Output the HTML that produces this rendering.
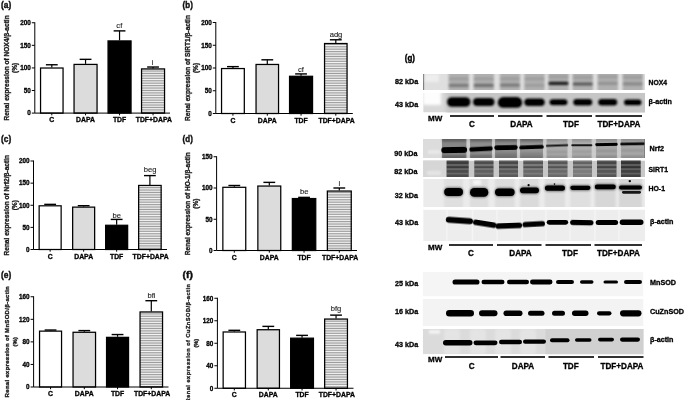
<!DOCTYPE html>
<html><head><meta charset="utf-8"><title>figure</title>
<style>html,body{margin:0;padding:0;background:#fff;}svg{display:block}text{stroke:#000;stroke-width:0.3px;paint-order:stroke fill;}text.ann{stroke-width:0.12px;stroke:#222}</style></head>
<body>
<svg width="685" height="400" viewBox="0 0 685 400">
<defs>
<pattern id="hatch" width="4" height="1.7" patternUnits="userSpaceOnUse"><rect width="4" height="1.7" fill="#f6f6f6"/><rect y="0" width="4" height="0.85" fill="#9a9a9a"/></pattern>
<filter id="b1" filterUnits="userSpaceOnUse" x="380" y="40" width="305" height="360"><feGaussianBlur stdDeviation="0.75"/></filter>
<filter id="b15" filterUnits="userSpaceOnUse" x="380" y="40" width="305" height="360"><feGaussianBlur stdDeviation="1.1"/></filter>
<filter id="b2" filterUnits="userSpaceOnUse" x="380" y="40" width="305" height="360"><feGaussianBlur stdDeviation="1.5"/></filter>
<filter id="b3" filterUnits="userSpaceOnUse" x="380" y="40" width="305" height="360"><feGaussianBlur stdDeviation="2.5"/></filter>
</defs>
<filter id="soft" filterUnits="userSpaceOnUse" x="0" y="0" width="685" height="400"><feGaussianBlur stdDeviation="0.33"/></filter>
<rect width="685" height="400" fill="#fff"/>
<g filter="url(#soft)">

<text x="1.0" y="8.2" font-family="Liberation Sans, sans-serif" font-size="9" font-weight="bold" textLength="10.2" lengthAdjust="spacingAndGlyphs" fill="#111" style="stroke-width:0.4px">(a)</text>
<text transform="translate(8.8,67.925) rotate(-90)" text-anchor="middle" font-family="Liberation Sans, sans-serif" font-size="6.55" font-weight="bold" textLength="105.2" lengthAdjust="spacing" fill="#1a1a1a">Renal expression of NOX4/β-actin</text>
<text transform="translate(17.3,67.925) rotate(-90)" text-anchor="middle" font-family="Liberation Sans, sans-serif" font-size="6.55" font-weight="bold" fill="#1a1a1a">(%)</text>
<path d="M51.8 67.47325000000001 V64.76275" stroke="#000" stroke-width="1.2" fill="none"/>
<rect x="45.9" y="64.06275" width="11.8" height="1.4" fill="#000"/>
<rect x="40.55" y="68.02325" width="22.5" height="45.07674999999999" fill="#fff" stroke="#000" stroke-width="1.25"/>
<path d="M85.55 63.859249999999996 V59.34175" stroke="#000" stroke-width="1.2" fill="none"/>
<rect x="79.64999999999999" y="58.641749999999995" width="11.8" height="1.4" fill="#000"/>
<rect x="74.05" y="64.40925" width="22.999999999999993" height="48.69075" fill="#dcdcdc" stroke="#000" stroke-width="1.25"/>
<path d="M119.55 40.36825 V30.88149999999999" stroke="#000" stroke-width="1.2" fill="none"/>
<rect x="113.64999999999999" y="30.18149999999999" width="11.8" height="1.4" fill="#000"/>
<rect x="108.05" y="40.91825" width="22.999999999999993" height="72.18175" fill="#000" stroke="#000" stroke-width="1.25"/>
<path d="M153.05 68.37674999999999 V67.0215" stroke="#000" stroke-width="1.2" fill="none"/>
<rect x="147.15" y="66.3215" width="11.8" height="1.4" fill="#000"/>
<rect x="141.55" y="68.92674999999998" width="22.999999999999993" height="44.17325000000001" fill="url(#hatch)" stroke="#000" stroke-width="1.25"/>
<path d="M34.8 22.25 V113.1 H170" stroke="#000" stroke-width="1" fill="none"/>
<path d="M31.799999999999997 113.1 H34.8" stroke="#000" stroke-width="1"/>
<text x="30.799999999999997" y="115.35" text-anchor="end" font-family="Liberation Sans, sans-serif" font-size="6.35" font-weight="bold">0</text>
<path d="M31.799999999999997 90.51249999999999 H34.8" stroke="#000" stroke-width="1"/>
<text x="30.799999999999997" y="92.76249999999999" text-anchor="end" font-family="Liberation Sans, sans-serif" font-size="6.35" font-weight="bold">50</text>
<path d="M31.799999999999997 67.925 H34.8" stroke="#000" stroke-width="1"/>
<text x="30.799999999999997" y="70.175" text-anchor="end" font-family="Liberation Sans, sans-serif" font-size="6.35" font-weight="bold">100</text>
<path d="M31.799999999999997 45.33749999999999 H34.8" stroke="#000" stroke-width="1"/>
<text x="30.799999999999997" y="47.58749999999999" text-anchor="end" font-family="Liberation Sans, sans-serif" font-size="6.35" font-weight="bold">150</text>
<path d="M31.799999999999997 22.75 H34.8" stroke="#000" stroke-width="1"/>
<text x="30.799999999999997" y="25.0" text-anchor="end" font-family="Liberation Sans, sans-serif" font-size="6.35" font-weight="bold">200</text>
<path d="M51.8 113.1 v2.2" stroke="#000" stroke-width="1"/>
<text x="51.8" y="121.8" text-anchor="middle" font-family="Liberation Sans, sans-serif" font-size="6.85" font-weight="bold">C</text>
<path d="M85.55 113.1 v2.2" stroke="#000" stroke-width="1"/>
<text x="85.55" y="121.8" text-anchor="middle" font-family="Liberation Sans, sans-serif" font-size="6.85" font-weight="bold">DAPA</text>
<path d="M119.55 113.1 v2.2" stroke="#000" stroke-width="1"/>
<text x="119.55" y="121.8" text-anchor="middle" font-family="Liberation Sans, sans-serif" font-size="6.85" font-weight="bold">TDF</text>
<path d="M153.05 113.1 v2.2" stroke="#000" stroke-width="1"/>
<text x="153.85000000000002" y="121.8" text-anchor="middle" font-family="Liberation Sans, sans-serif" font-size="6.85" font-weight="bold">TDF+DAPA</text>
<text x="119.3" y="27.5" text-anchor="middle" font-family="Liberation Sans, sans-serif" font-size="7.6" fill="#222" class="ann">cf</text>
<text x="152.7" y="64.5" text-anchor="middle" font-family="Liberation Sans, sans-serif" font-size="7.6" fill="#222" class="ann">i</text>
<text x="182.6" y="8.2" font-family="Liberation Sans, sans-serif" font-size="9" font-weight="bold" textLength="10.2" lengthAdjust="spacingAndGlyphs" fill="#111" style="stroke-width:0.4px">(b)</text>
<text transform="translate(190,68.0) rotate(-90)" text-anchor="middle" font-family="Liberation Sans, sans-serif" font-size="6.55" font-weight="bold" textLength="105.9" lengthAdjust="spacing" fill="#1a1a1a">Renal expression of SIRT1/β-actin</text>
<text transform="translate(198.3,68.0) rotate(-90)" text-anchor="middle" font-family="Liberation Sans, sans-serif" font-size="6.55" font-weight="bold" fill="#1a1a1a">(%)</text>
<path d="M232.925 68.0 V66.63499999999999" stroke="#000" stroke-width="1.2" fill="none"/>
<rect x="227.025" y="65.93499999999999" width="11.8" height="1.4" fill="#000"/>
<rect x="221.55" y="68.55" width="22.749999999999993" height="44.95" fill="#fff" stroke="#000" stroke-width="1.25"/>
<path d="M267.3 63.905 V59.81" stroke="#000" stroke-width="1.2" fill="none"/>
<rect x="261.40000000000003" y="59.11" width="11.8" height="1.4" fill="#000"/>
<rect x="256.05" y="64.455" width="22.50000000000002" height="49.045" fill="#dcdcdc" stroke="#000" stroke-width="1.25"/>
<path d="M301.05 75.735 V73.91499999999999" stroke="#000" stroke-width="1.2" fill="none"/>
<rect x="295.15000000000003" y="73.21499999999999" width="11.8" height="1.4" fill="#000"/>
<rect x="289.55" y="76.285" width="23.00000000000002" height="37.215" fill="#000" stroke="#000" stroke-width="1.25"/>
<path d="M335.8 42.974999999999994 V39.790000000000006" stroke="#000" stroke-width="1.2" fill="none"/>
<rect x="329.90000000000003" y="39.09" width="11.8" height="1.4" fill="#000"/>
<rect x="324.55" y="43.52499999999999" width="22.50000000000002" height="69.97500000000001" fill="url(#hatch)" stroke="#000" stroke-width="1.25"/>
<path d="M215.8 22.0 V113.5 H352.8" stroke="#000" stroke-width="1" fill="none"/>
<path d="M212.8 113.5 H215.8" stroke="#000" stroke-width="1"/>
<text x="211.8" y="115.75" text-anchor="end" font-family="Liberation Sans, sans-serif" font-size="6.35" font-weight="bold">0</text>
<path d="M212.8 90.75 H215.8" stroke="#000" stroke-width="1"/>
<text x="211.8" y="93.0" text-anchor="end" font-family="Liberation Sans, sans-serif" font-size="6.35" font-weight="bold">50</text>
<path d="M212.8 68.0 H215.8" stroke="#000" stroke-width="1"/>
<text x="211.8" y="70.25" text-anchor="end" font-family="Liberation Sans, sans-serif" font-size="6.35" font-weight="bold">100</text>
<path d="M212.8 45.25 H215.8" stroke="#000" stroke-width="1"/>
<text x="211.8" y="47.5" text-anchor="end" font-family="Liberation Sans, sans-serif" font-size="6.35" font-weight="bold">150</text>
<path d="M212.8 22.5 H215.8" stroke="#000" stroke-width="1"/>
<text x="211.8" y="24.75" text-anchor="end" font-family="Liberation Sans, sans-serif" font-size="6.35" font-weight="bold">200</text>
<path d="M232.925 113.5 v2.2" stroke="#000" stroke-width="1"/>
<text x="232.925" y="122.8" text-anchor="middle" font-family="Liberation Sans, sans-serif" font-size="6.85" font-weight="bold">C</text>
<path d="M267.3 113.5 v2.2" stroke="#000" stroke-width="1"/>
<text x="267.3" y="122.8" text-anchor="middle" font-family="Liberation Sans, sans-serif" font-size="6.85" font-weight="bold">DAPA</text>
<path d="M301.05 113.5 v2.2" stroke="#000" stroke-width="1"/>
<text x="301.05" y="122.8" text-anchor="middle" font-family="Liberation Sans, sans-serif" font-size="6.85" font-weight="bold">TDF</text>
<path d="M335.8 113.5 v2.2" stroke="#000" stroke-width="1"/>
<text x="336.6" y="122.8" text-anchor="middle" font-family="Liberation Sans, sans-serif" font-size="6.85" font-weight="bold">TDF+DAPA</text>
<text x="301" y="71.5" text-anchor="middle" font-family="Liberation Sans, sans-serif" font-size="7.6" fill="#222" class="ann">cf</text>
<text x="336" y="36.5" text-anchor="middle" font-family="Liberation Sans, sans-serif" font-size="7.6" fill="#222" class="ann">adg</text>
<text x="1.0" y="141.6" font-family="Liberation Sans, sans-serif" font-size="9" font-weight="bold" textLength="10.2" lengthAdjust="spacingAndGlyphs" fill="#111" style="stroke-width:0.4px">(c)</text>
<text transform="translate(8.5,205.25) rotate(-90)" text-anchor="middle" font-family="Liberation Sans, sans-serif" font-size="6.55" font-weight="bold" textLength="100.5" lengthAdjust="spacing" fill="#1a1a1a">Renal expression of Nrf2/β-actin</text>
<text transform="translate(17.3,205.25) rotate(-90)" text-anchor="middle" font-family="Liberation Sans, sans-serif" font-size="6.55" font-weight="bold" fill="#1a1a1a">(%)</text>
<path d="M50.150000000000006 205.25 V204.365" stroke="#000" stroke-width="1.2" fill="none"/>
<rect x="44.25000000000001" y="203.66500000000002" width="11.8" height="1.4" fill="#000"/>
<rect x="39.15" y="205.8" width="22.0" height="43.7" fill="#fff" stroke="#000" stroke-width="1.25"/>
<path d="M83.65 206.5775 V205.6925" stroke="#000" stroke-width="1.2" fill="none"/>
<rect x="77.75" y="204.9925" width="11.8" height="1.4" fill="#000"/>
<rect x="72.64999999999999" y="207.1275" width="22.000000000000007" height="42.37250000000002" fill="#dcdcdc" stroke="#000" stroke-width="1.25"/>
<path d="M116.64999999999999 224.72 V219.41" stroke="#000" stroke-width="1.2" fill="none"/>
<rect x="110.74999999999999" y="218.71" width="11.8" height="1.4" fill="#000"/>
<rect x="105.64999999999999" y="225.27" width="21.999999999999993" height="24.23" fill="#000" stroke="#000" stroke-width="1.25"/>
<path d="M149.89999999999998 184.89499999999998 V175.60250000000002" stroke="#000" stroke-width="1.2" fill="none"/>
<rect x="143.99999999999997" y="174.90250000000003" width="11.8" height="1.4" fill="#000"/>
<rect x="138.65" y="185.445" width="22.499999999999993" height="64.05500000000002" fill="url(#hatch)" stroke="#000" stroke-width="1.25"/>
<path d="M33.5 160.5 V249.5 H167" stroke="#000" stroke-width="1" fill="none"/>
<path d="M30.5 249.5 H33.5" stroke="#000" stroke-width="1"/>
<text x="29.5" y="251.75" text-anchor="end" font-family="Liberation Sans, sans-serif" font-size="6.35" font-weight="bold">0</text>
<path d="M30.5 227.375 H33.5" stroke="#000" stroke-width="1"/>
<text x="29.5" y="229.625" text-anchor="end" font-family="Liberation Sans, sans-serif" font-size="6.35" font-weight="bold">50</text>
<path d="M30.5 205.25 H33.5" stroke="#000" stroke-width="1"/>
<text x="29.5" y="207.5" text-anchor="end" font-family="Liberation Sans, sans-serif" font-size="6.35" font-weight="bold">100</text>
<path d="M30.5 183.125 H33.5" stroke="#000" stroke-width="1"/>
<text x="29.5" y="185.375" text-anchor="end" font-family="Liberation Sans, sans-serif" font-size="6.35" font-weight="bold">150</text>
<path d="M30.5 161.0 H33.5" stroke="#000" stroke-width="1"/>
<text x="29.5" y="163.25" text-anchor="end" font-family="Liberation Sans, sans-serif" font-size="6.35" font-weight="bold">200</text>
<path d="M50.150000000000006 249.5 v2.2" stroke="#000" stroke-width="1"/>
<text x="50.150000000000006" y="258.6" text-anchor="middle" font-family="Liberation Sans, sans-serif" font-size="6.85" font-weight="bold">C</text>
<path d="M83.65 249.5 v2.2" stroke="#000" stroke-width="1"/>
<text x="83.65" y="258.6" text-anchor="middle" font-family="Liberation Sans, sans-serif" font-size="6.85" font-weight="bold">DAPA</text>
<path d="M116.64999999999999 249.5 v2.2" stroke="#000" stroke-width="1"/>
<text x="116.64999999999999" y="258.6" text-anchor="middle" font-family="Liberation Sans, sans-serif" font-size="6.85" font-weight="bold">TDF</text>
<path d="M149.89999999999998 249.5 v2.2" stroke="#000" stroke-width="1"/>
<text x="150.7" y="258.6" text-anchor="middle" font-family="Liberation Sans, sans-serif" font-size="6.85" font-weight="bold">TDF+DAPA</text>
<text x="116.7" y="217.7" text-anchor="middle" font-family="Liberation Sans, sans-serif" font-size="7.6" fill="#222" class="ann">be</text>
<text x="150.2" y="172.3" text-anchor="middle" font-family="Liberation Sans, sans-serif" font-size="7.6" fill="#222" class="ann">beg</text>
<text x="182.6" y="141.6" font-family="Liberation Sans, sans-serif" font-size="9" font-weight="bold" textLength="10.2" lengthAdjust="spacingAndGlyphs" fill="#111" style="stroke-width:0.4px">(d)</text>
<text transform="translate(190,203.625) rotate(-90)" text-anchor="middle" font-family="Liberation Sans, sans-serif" font-size="6.55" font-weight="bold" textLength="103.0" lengthAdjust="spacing" fill="#1a1a1a">Renal expression of HO-1/β-actin</text>
<text transform="translate(198.3,203.625) rotate(-90)" text-anchor="middle" font-family="Liberation Sans, sans-serif" font-size="6.55" font-weight="bold" fill="#1a1a1a">(%)</text>
<path d="M234.3 186.75 V185.5" stroke="#000" stroke-width="1.2" fill="none"/>
<rect x="228.4" y="184.8" width="11.8" height="1.4" fill="#000"/>
<rect x="222.85000000000002" y="187.3" width="22.9" height="63.2" fill="#fff" stroke="#000" stroke-width="1.25"/>
<path d="M269.3 185.5 V182.375" stroke="#000" stroke-width="1.2" fill="none"/>
<rect x="263.40000000000003" y="181.675" width="11.8" height="1.4" fill="#000"/>
<rect x="257.85" y="186.05" width="22.9" height="64.45" fill="#dcdcdc" stroke="#000" stroke-width="1.25"/>
<path d="M304.05 198.0 V197.375" stroke="#000" stroke-width="1.2" fill="none"/>
<rect x="298.15000000000003" y="196.675" width="11.8" height="1.4" fill="#000"/>
<rect x="292.35" y="198.55" width="23.4" height="51.95" fill="#000" stroke="#000" stroke-width="1.25"/>
<path d="M339.3 190.5 V188.0" stroke="#000" stroke-width="1.2" fill="none"/>
<rect x="333.40000000000003" y="187.3" width="11.8" height="1.4" fill="#000"/>
<rect x="327.35" y="191.05" width="23.9" height="59.45" fill="url(#hatch)" stroke="#000" stroke-width="1.25"/>
<path d="M216.6 156.25 V250.5 H357" stroke="#000" stroke-width="1" fill="none"/>
<path d="M213.6 250.5 H216.6" stroke="#000" stroke-width="1"/>
<text x="212.6" y="252.75" text-anchor="end" font-family="Liberation Sans, sans-serif" font-size="6.35" font-weight="bold">0</text>
<path d="M213.6 219.25 H216.6" stroke="#000" stroke-width="1"/>
<text x="212.6" y="221.5" text-anchor="end" font-family="Liberation Sans, sans-serif" font-size="6.35" font-weight="bold">50</text>
<path d="M213.6 188.0 H216.6" stroke="#000" stroke-width="1"/>
<text x="212.6" y="190.25" text-anchor="end" font-family="Liberation Sans, sans-serif" font-size="6.35" font-weight="bold">100</text>
<path d="M213.6 156.75 H216.6" stroke="#000" stroke-width="1"/>
<text x="212.6" y="159.0" text-anchor="end" font-family="Liberation Sans, sans-serif" font-size="6.35" font-weight="bold">150</text>
<path d="M234.3 250.5 v2.2" stroke="#000" stroke-width="1"/>
<text x="234.3" y="259.8" text-anchor="middle" font-family="Liberation Sans, sans-serif" font-size="6.85" font-weight="bold">C</text>
<path d="M269.3 250.5 v2.2" stroke="#000" stroke-width="1"/>
<text x="269.3" y="259.8" text-anchor="middle" font-family="Liberation Sans, sans-serif" font-size="6.85" font-weight="bold">DAPA</text>
<path d="M304.05 250.5 v2.2" stroke="#000" stroke-width="1"/>
<text x="304.05" y="259.8" text-anchor="middle" font-family="Liberation Sans, sans-serif" font-size="6.85" font-weight="bold">TDF</text>
<path d="M339.3 250.5 v2.2" stroke="#000" stroke-width="1"/>
<text x="340.1" y="259.8" text-anchor="middle" font-family="Liberation Sans, sans-serif" font-size="6.85" font-weight="bold">TDF+DAPA</text>
<text x="304.3" y="193.6" text-anchor="middle" font-family="Liberation Sans, sans-serif" font-size="7.6" fill="#222" class="ann">be</text>
<text x="339.3" y="185.6" text-anchor="middle" font-family="Liberation Sans, sans-serif" font-size="7.6" fill="#222" class="ann">i</text>
<text x="1.0" y="278.2" font-family="Liberation Sans, sans-serif" font-size="9" font-weight="bold" textLength="10.2" lengthAdjust="spacingAndGlyphs" fill="#111" style="stroke-width:0.4px">(e)</text>
<text transform="translate(8.5,341.875) rotate(-90)" text-anchor="middle" font-family="Liberation Sans, sans-serif" font-size="6.0" font-weight="bold" textLength="111.0" lengthAdjust="spacing" fill="#1a1a1a">Renal expression of MnSOD/β-actin</text>
<text transform="translate(17.3,341.875) rotate(-90)" text-anchor="middle" font-family="Liberation Sans, sans-serif" font-size="6.0" font-weight="bold" fill="#1a1a1a">(%)</text>
<path d="M50.55 330.59375 V330.0296875" stroke="#000" stroke-width="1.2" fill="none"/>
<rect x="44.65" y="329.32968750000003" width="11.8" height="1.4" fill="#000"/>
<rect x="39.55" y="331.14375" width="22.0" height="55.85625" fill="#fff" stroke="#000" stroke-width="1.25"/>
<path d="M84.3 331.721875 V330.59375" stroke="#000" stroke-width="1.2" fill="none"/>
<rect x="78.39999999999999" y="329.89375" width="11.8" height="1.4" fill="#000"/>
<rect x="73.05" y="332.271875" width="22.499999999999993" height="54.72812499999999" fill="#dcdcdc" stroke="#000" stroke-width="1.25"/>
<path d="M117.55 336.7984375 V334.5421875" stroke="#000" stroke-width="1.2" fill="none"/>
<rect x="111.64999999999999" y="333.8421875" width="11.8" height="1.4" fill="#000"/>
<rect x="106.55" y="337.3484375" width="21.999999999999993" height="49.651562500000026" fill="#000" stroke="#000" stroke-width="1.25"/>
<path d="M151.3 311.415625 V300.6984375" stroke="#000" stroke-width="1.2" fill="none"/>
<rect x="145.4" y="299.9984375" width="11.8" height="1.4" fill="#000"/>
<rect x="140.05" y="311.965625" width="22.499999999999993" height="75.03437500000003" fill="url(#hatch)" stroke="#000" stroke-width="1.25"/>
<path d="M33.6 296.25 V387 H168.5" stroke="#000" stroke-width="1" fill="none"/>
<path d="M30.6 387.0 H33.6" stroke="#000" stroke-width="1"/>
<text x="29.6" y="389.25" text-anchor="end" font-family="Liberation Sans, sans-serif" font-size="6.35" font-weight="bold">0</text>
<path d="M30.6 364.4375 H33.6" stroke="#000" stroke-width="1"/>
<text x="29.6" y="366.6875" text-anchor="end" font-family="Liberation Sans, sans-serif" font-size="6.35" font-weight="bold">40</text>
<path d="M30.6 341.875 H33.6" stroke="#000" stroke-width="1"/>
<text x="29.6" y="344.125" text-anchor="end" font-family="Liberation Sans, sans-serif" font-size="6.35" font-weight="bold">80</text>
<path d="M30.6 319.3125 H33.6" stroke="#000" stroke-width="1"/>
<text x="29.6" y="321.5625" text-anchor="end" font-family="Liberation Sans, sans-serif" font-size="6.35" font-weight="bold">120</text>
<path d="M30.6 296.75 H33.6" stroke="#000" stroke-width="1"/>
<text x="29.6" y="299.0" text-anchor="end" font-family="Liberation Sans, sans-serif" font-size="6.35" font-weight="bold">160</text>
<path d="M50.55 387 v2.2" stroke="#000" stroke-width="1"/>
<text x="50.55" y="395.7" text-anchor="middle" font-family="Liberation Sans, sans-serif" font-size="6.85" font-weight="bold">C</text>
<path d="M84.3 387 v2.2" stroke="#000" stroke-width="1"/>
<text x="84.3" y="395.7" text-anchor="middle" font-family="Liberation Sans, sans-serif" font-size="6.85" font-weight="bold">DAPA</text>
<path d="M117.55 387 v2.2" stroke="#000" stroke-width="1"/>
<text x="117.55" y="395.7" text-anchor="middle" font-family="Liberation Sans, sans-serif" font-size="6.85" font-weight="bold">TDF</text>
<path d="M151.3 387 v2.2" stroke="#000" stroke-width="1"/>
<text x="152.10000000000002" y="395.7" text-anchor="middle" font-family="Liberation Sans, sans-serif" font-size="6.85" font-weight="bold">TDF+DAPA</text>
<text x="151.5" y="297.7" text-anchor="middle" font-family="Liberation Sans, sans-serif" font-size="7.6" fill="#222" class="ann">bfi</text>
<text x="182.6" y="278.2" font-family="Liberation Sans, sans-serif" font-size="9" font-weight="bold" textLength="10.2" lengthAdjust="spacingAndGlyphs" fill="#111" style="stroke-width:0.4px">(f)</text>
<text transform="translate(190,343.25) rotate(-90)" text-anchor="middle" font-family="Liberation Sans, sans-serif" font-size="5.6" font-weight="bold" textLength="118.3" lengthAdjust="spacing" fill="#1a1a1a">Renal expression of CuZnSOD/β-actin</text>
<text transform="translate(198.3,343.25) rotate(-90)" text-anchor="middle" font-family="Liberation Sans, sans-serif" font-size="5.6" font-weight="bold" fill="#1a1a1a">(%)</text>
<path d="M234.3 331.4375 V330.3125" stroke="#000" stroke-width="1.2" fill="none"/>
<rect x="228.4" y="329.6125" width="11.8" height="1.4" fill="#000"/>
<rect x="223.15" y="331.9875" width="22.300000000000004" height="56.2625" fill="#fff" stroke="#000" stroke-width="1.25"/>
<path d="M268.3 329.1875 V326.375" stroke="#000" stroke-width="1.2" fill="none"/>
<rect x="262.40000000000003" y="325.675" width="11.8" height="1.4" fill="#000"/>
<rect x="257.15000000000003" y="329.7375" width="22.299999999999976" height="58.5125" fill="#dcdcdc" stroke="#000" stroke-width="1.25"/>
<path d="M302.05 337.625 V335.375" stroke="#000" stroke-width="1.2" fill="none"/>
<rect x="296.15000000000003" y="334.675" width="11.8" height="1.4" fill="#000"/>
<rect x="290.65000000000003" y="338.175" width="22.799999999999976" height="50.075" fill="#000" stroke="#000" stroke-width="1.25"/>
<path d="M336.05 318.5 V315.125" stroke="#000" stroke-width="1.2" fill="none"/>
<rect x="330.15000000000003" y="314.425" width="11.8" height="1.4" fill="#000"/>
<rect x="324.65000000000003" y="319.05" width="22.799999999999976" height="69.2" fill="url(#hatch)" stroke="#000" stroke-width="1.25"/>
<path d="M217.4 297.75 V388.25 H353.5" stroke="#000" stroke-width="1" fill="none"/>
<path d="M214.4 388.25 H217.4" stroke="#000" stroke-width="1"/>
<text x="213.4" y="390.5" text-anchor="end" font-family="Liberation Sans, sans-serif" font-size="6.35" font-weight="bold">0</text>
<path d="M214.4 365.75 H217.4" stroke="#000" stroke-width="1"/>
<text x="213.4" y="368.0" text-anchor="end" font-family="Liberation Sans, sans-serif" font-size="6.35" font-weight="bold">40</text>
<path d="M214.4 343.25 H217.4" stroke="#000" stroke-width="1"/>
<text x="213.4" y="345.5" text-anchor="end" font-family="Liberation Sans, sans-serif" font-size="6.35" font-weight="bold">80</text>
<path d="M214.4 320.75 H217.4" stroke="#000" stroke-width="1"/>
<text x="213.4" y="323.0" text-anchor="end" font-family="Liberation Sans, sans-serif" font-size="6.35" font-weight="bold">120</text>
<path d="M214.4 298.25 H217.4" stroke="#000" stroke-width="1"/>
<text x="213.4" y="300.5" text-anchor="end" font-family="Liberation Sans, sans-serif" font-size="6.35" font-weight="bold">160</text>
<path d="M234.3 388.25 v2.2" stroke="#000" stroke-width="1"/>
<text x="234.3" y="397.1" text-anchor="middle" font-family="Liberation Sans, sans-serif" font-size="6.85" font-weight="bold">C</text>
<path d="M268.3 388.25 v2.2" stroke="#000" stroke-width="1"/>
<text x="268.3" y="397.1" text-anchor="middle" font-family="Liberation Sans, sans-serif" font-size="6.85" font-weight="bold">DAPA</text>
<path d="M302.05 388.25 v2.2" stroke="#000" stroke-width="1"/>
<text x="302.05" y="397.1" text-anchor="middle" font-family="Liberation Sans, sans-serif" font-size="6.85" font-weight="bold">TDF</text>
<path d="M336.05 388.25 v2.2" stroke="#000" stroke-width="1"/>
<text x="336.85" y="397.1" text-anchor="middle" font-family="Liberation Sans, sans-serif" font-size="6.85" font-weight="bold">TDF+DAPA</text>
<text x="336" y="310.8" text-anchor="middle" font-family="Liberation Sans, sans-serif" font-size="7.6" fill="#222" class="ann">bfg</text>
<text x="404.8" y="60.9" font-family="Liberation Sans, sans-serif" font-size="9" font-weight="bold" textLength="10.2" lengthAdjust="spacingAndGlyphs" style="stroke-width:0.4px">(g)</text>
<clipPath id="c1"><rect x="423.2" y="74" width="221.8" height="16"/></clipPath>
<g clip-path="url(#c1)"><rect x="423.2" y="74" width="221.8" height="16" fill="#dfdfdf"/>
<rect x="423.20" y="74.00" width="0.90" height="16.00" rx="0.00" fill="#444" opacity="1"/>
<rect x="425.00" y="74.00" width="14.00" height="8.00" rx="0.00" fill="#f2f2f2" opacity="0.8" filter="url(#b2)"/>
<rect x="448.55" y="70.00" width="20.40" height="24.00" rx="0.00" fill="#adadad" opacity="0.95" filter="url(#b15)"/>
<rect x="473.55" y="70.00" width="20.40" height="24.00" rx="0.00" fill="#adadad" opacity="0.95" filter="url(#b15)"/>
<rect x="499.80" y="70.00" width="20.40" height="24.00" rx="0.00" fill="#adadad" opacity="0.95" filter="url(#b15)"/>
<rect x="524.30" y="70.00" width="20.40" height="24.00" rx="0.00" fill="#adadad" opacity="0.95" filter="url(#b15)"/>
<rect x="548.30" y="70.00" width="20.40" height="24.00" rx="0.00" fill="#adadad" opacity="0.95" filter="url(#b15)"/>
<rect x="572.55" y="70.00" width="20.40" height="24.00" rx="0.00" fill="#adadad" opacity="0.95" filter="url(#b15)"/>
<rect x="597.55" y="70.00" width="20.40" height="24.00" rx="0.00" fill="#adadad" opacity="0.95" filter="url(#b15)"/>
<rect x="622.55" y="70.00" width="20.40" height="24.00" rx="0.00" fill="#adadad" opacity="0.95" filter="url(#b15)"/>
<rect x="448.75" y="83.80" width="20.00" height="3.20" rx="1.60" fill="#000" opacity="0.3" filter="url(#b15)"/>
<rect x="448.75" y="77.20" width="20.00" height="3.40" rx="1.70" fill="#000" opacity="0.1" filter="url(#b15)"/>
<rect x="473.75" y="83.80" width="20.00" height="3.20" rx="1.60" fill="#000" opacity="0.36" filter="url(#b15)"/>
<rect x="473.75" y="77.20" width="20.00" height="3.40" rx="1.70" fill="#000" opacity="0.1" filter="url(#b15)"/>
<rect x="500.00" y="83.60" width="20.00" height="3.20" rx="1.60" fill="#000" opacity="0.3" filter="url(#b15)"/>
<rect x="500.00" y="77.00" width="20.00" height="3.40" rx="1.70" fill="#000" opacity="0.1" filter="url(#b15)"/>
<rect x="524.50" y="83.80" width="20.00" height="3.20" rx="1.60" fill="#000" opacity="0.1" filter="url(#b15)"/>
<rect x="524.50" y="77.20" width="20.00" height="3.40" rx="1.70" fill="#000" opacity="0.1" filter="url(#b15)"/>
<rect x="548.50" y="81.80" width="20.00" height="3.20" rx="1.60" fill="#000" opacity="0.85" filter="url(#b15)"/>
<rect x="548.50" y="75.20" width="20.00" height="3.40" rx="1.70" fill="#000" opacity="0.1" filter="url(#b15)"/>
<rect x="572.75" y="82.40" width="20.00" height="3.20" rx="1.60" fill="#000" opacity="0.5" filter="url(#b15)"/>
<rect x="572.75" y="75.80" width="20.00" height="3.40" rx="1.70" fill="#000" opacity="0.1" filter="url(#b15)"/>
<rect x="597.75" y="81.80" width="20.00" height="3.20" rx="1.60" fill="#000" opacity="0.16" filter="url(#b15)"/>
<rect x="597.75" y="75.20" width="20.00" height="3.40" rx="1.70" fill="#000" opacity="0.1" filter="url(#b15)"/>
<rect x="622.75" y="82.20" width="20.00" height="3.20" rx="1.60" fill="#000" opacity="0.22" filter="url(#b15)"/>
<rect x="622.75" y="75.60" width="20.00" height="3.40" rx="1.70" fill="#000" opacity="0.1" filter="url(#b15)"/>
</g>
<clipPath id="c2"><rect x="423.2" y="93" width="221.8" height="19.5"/></clipPath>
<g clip-path="url(#c2)"><rect x="423.2" y="93" width="221.8" height="19.5" fill="#d8d8d8"/>
<rect x="446.00" y="90.00" width="202.00" height="26.00" rx="0.00" fill="#c6c6c6" opacity="0.95" filter="url(#b2)"/>
<rect x="423.00" y="90.00" width="18.00" height="15.00" rx="0.00" fill="#ffffff" opacity="0.95" filter="url(#b2)"/>
<rect x="447.00" y="97.20" width="23.50" height="9.60" rx="4.80" fill="#000" opacity="1" filter="url(#b15)"/>
<rect x="449.00" y="98.70" width="19.50" height="6.60" rx="3.30" fill="#000" opacity="1" filter="url(#b1)"/>
<rect x="473.00" y="97.90" width="21.50" height="8.20" rx="4.10" fill="#000" opacity="1" filter="url(#b15)"/>
<rect x="475.00" y="99.40" width="17.50" height="5.20" rx="2.60" fill="#000" opacity="1" filter="url(#b1)"/>
<rect x="497.75" y="97.10" width="24.50" height="10.60" rx="5.30" fill="#000" opacity="1" filter="url(#b15)"/>
<rect x="499.75" y="98.60" width="20.50" height="7.60" rx="3.80" fill="#000" opacity="1" filter="url(#b1)"/>
<rect x="524.25" y="98.40" width="20.50" height="7.60" rx="3.80" fill="#000" opacity="1" filter="url(#b15)"/>
<rect x="526.25" y="99.90" width="16.50" height="4.60" rx="2.30" fill="#000" opacity="1" filter="url(#b1)"/>
<rect x="549.50" y="99.20" width="18.00" height="6.00" rx="3.00" fill="#000" opacity="1" filter="url(#b15)"/>
<rect x="551.50" y="100.70" width="14.00" height="3.00" rx="1.50" fill="#000" opacity="1" filter="url(#b1)"/>
<rect x="573.25" y="99.00" width="19.00" height="6.40" rx="3.20" fill="#000" opacity="1" filter="url(#b15)"/>
<rect x="575.25" y="100.50" width="15.00" height="3.40" rx="1.70" fill="#000" opacity="1" filter="url(#b1)"/>
<rect x="598.25" y="99.00" width="19.00" height="6.40" rx="3.20" fill="#000" opacity="1" filter="url(#b15)"/>
<rect x="600.25" y="100.50" width="15.00" height="3.40" rx="1.70" fill="#000" opacity="1" filter="url(#b1)"/>
<rect x="624.00" y="99.60" width="17.50" height="5.60" rx="2.80" fill="#000" opacity="1" filter="url(#b15)"/>
<rect x="626.00" y="101.10" width="13.50" height="2.60" rx="1.30" fill="#000" opacity="1" filter="url(#b1)"/>
</g>
<text x="395" y="84.1" text-anchor="start" font-family="Liberation Sans, sans-serif" font-size="7" font-weight="bold" textLength="23.2" lengthAdjust="spacingAndGlyphs">82 kDa</text>
<text x="395" y="106.7" text-anchor="start" font-family="Liberation Sans, sans-serif" font-size="7" font-weight="bold" textLength="23.2" lengthAdjust="spacingAndGlyphs">43 kDa</text>
<text x="648.5" y="85.2" text-anchor="start" font-family="Liberation Sans, sans-serif" font-size="6.8" font-weight="bold" textLength="18.5" lengthAdjust="spacingAndGlyphs">NOX4</text>
<text x="648.5" y="104.4" text-anchor="start" font-family="Liberation Sans, sans-serif" font-size="6.8" font-weight="bold" textLength="23.5" lengthAdjust="spacingAndGlyphs">β-actin</text>
<text x="428" y="120.60000000000001" text-anchor="start" font-family="Liberation Sans, sans-serif" font-size="7.7" font-weight="bold" textLength="14.2" lengthAdjust="spacingAndGlyphs">MW</text>
<rect x="450" y="115.2" width="44" height="1.6" fill="#000"/>
<rect x="498" y="115.2" width="44.5" height="1.6" fill="#000"/>
<rect x="546.5" y="115.2" width="45.5" height="1.6" fill="#000"/>
<rect x="595.5" y="115.2" width="46.5" height="1.6" fill="#000"/>
<text x="472" y="127.1" text-anchor="middle" font-family="Liberation Sans, sans-serif" font-size="8.15" font-weight="bold">C</text>
<text x="521.5" y="127.1" text-anchor="middle" font-family="Liberation Sans, sans-serif" font-size="8.15" font-weight="bold">DAPA</text>
<text x="571" y="127.1" text-anchor="middle" font-family="Liberation Sans, sans-serif" font-size="8.15" font-weight="bold">TDF</text>
<text x="619" y="127.1" text-anchor="middle" font-family="Liberation Sans, sans-serif" font-size="8.15" font-weight="bold">TDF+DAPA</text>
<clipPath id="c3"><rect x="423.2" y="139" width="221.8" height="19"/></clipPath>
<g clip-path="url(#c3)"><rect x="423.2" y="139" width="221.8" height="19" fill="#cccccc"/>
<rect x="420.20" y="136.00" width="21.50" height="25.00" rx="0.00" fill="#dcdcdc" opacity="1"/>
<rect x="428.00" y="150.00" width="12.00" height="4.00" rx="0.00" fill="#efefef" opacity="0.7" filter="url(#b15)"/>
<rect x="442.00" y="136.00" width="24.40" height="25.00" rx="0.00" fill="#868686" opacity="1" filter="url(#b1)"/>
<rect x="470.00" y="136.00" width="22.00" height="25.00" rx="0.00" fill="#8e8e8e" opacity="1" filter="url(#b1)"/>
<rect x="495.00" y="136.00" width="22.00" height="25.00" rx="0.00" fill="#8c8c8c" opacity="1" filter="url(#b1)"/>
<rect x="520.00" y="136.00" width="23.00" height="25.00" rx="0.00" fill="#949494" opacity="1" filter="url(#b1)"/>
<rect x="546.60" y="136.00" width="20.90" height="25.00" rx="0.00" fill="#aaaaaa" opacity="1" filter="url(#b1)"/>
<rect x="572.00" y="136.00" width="19.60" height="25.00" rx="0.00" fill="#adadad" opacity="1" filter="url(#b1)"/>
<rect x="596.00" y="136.00" width="21.00" height="25.00" rx="0.00" fill="#a6a6a6" opacity="1" filter="url(#b1)"/>
<rect x="621.00" y="136.00" width="23.00" height="25.00" rx="0.00" fill="#a8a8a8" opacity="1" filter="url(#b1)"/>
<rect x="441.25" y="146.90" width="25.90" height="6.00" rx="3.00" fill="#000" opacity="1" filter="url(#b1)" transform="rotate(-1 454.2 149.9)"/>
<rect x="442.00" y="155.40" width="24.40" height="2.00" rx="1.00" fill="#000" opacity="0.14" filter="url(#b15)"/>
<rect x="442.00" y="137.50" width="24.40" height="4.00" rx="0.00" fill="#000" opacity="0.3" filter="url(#b15)"/>
<rect x="442.00" y="155.50" width="24.40" height="4.00" rx="0.00" fill="#000" opacity="0.22" filter="url(#b15)"/>
<rect x="469.25" y="146.80" width="23.50" height="4.40" rx="2.20" fill="#000" opacity="1" filter="url(#b1)" transform="rotate(-3 481.0 149.0)"/>
<rect x="470.00" y="154.50" width="22.00" height="2.00" rx="1.00" fill="#000" opacity="0.14" filter="url(#b15)"/>
<rect x="470.00" y="137.50" width="22.00" height="4.00" rx="0.00" fill="#000" opacity="0.3" filter="url(#b15)"/>
<rect x="470.00" y="155.50" width="22.00" height="4.00" rx="0.00" fill="#000" opacity="0.22" filter="url(#b15)"/>
<rect x="494.25" y="145.20" width="23.50" height="4.80" rx="2.40" fill="#000" opacity="1" filter="url(#b1)" transform="rotate(-1 506.0 147.6)"/>
<rect x="495.00" y="153.10" width="22.00" height="2.00" rx="1.00" fill="#000" opacity="0.14" filter="url(#b15)"/>
<rect x="495.00" y="137.50" width="22.00" height="4.00" rx="0.00" fill="#000" opacity="0.3" filter="url(#b15)"/>
<rect x="495.00" y="155.50" width="22.00" height="4.00" rx="0.00" fill="#000" opacity="0.22" filter="url(#b15)"/>
<rect x="519.25" y="145.30" width="24.50" height="3.80" rx="1.90" fill="#000" opacity="1" filter="url(#b1)" transform="rotate(-2 531.5 147.2)"/>
<rect x="520.00" y="152.70" width="23.00" height="2.00" rx="1.00" fill="#000" opacity="0.14" filter="url(#b15)"/>
<rect x="520.00" y="137.50" width="23.00" height="4.00" rx="0.00" fill="#000" opacity="0.3" filter="url(#b15)"/>
<rect x="520.00" y="155.50" width="23.00" height="4.00" rx="0.00" fill="#000" opacity="0.22" filter="url(#b15)"/>
<rect x="545.85" y="144.50" width="22.40" height="2.00" rx="1.00" fill="#000" opacity="0.85" filter="url(#b1)" transform="rotate(-2 557.05 145.5)"/>
<rect x="546.60" y="151.00" width="20.90" height="2.00" rx="1.00" fill="#000" opacity="0.14" filter="url(#b15)"/>
<rect x="546.60" y="137.50" width="20.90" height="4.00" rx="0.00" fill="#000" opacity="0.14" filter="url(#b15)"/>
<rect x="546.60" y="155.50" width="20.90" height="4.00" rx="0.00" fill="#000" opacity="0.16" filter="url(#b15)"/>
<rect x="571.25" y="144.30" width="21.10" height="2.00" rx="1.00" fill="#000" opacity="0.85" filter="url(#b1)"/>
<rect x="572.00" y="150.80" width="19.60" height="2.00" rx="1.00" fill="#000" opacity="0.14" filter="url(#b15)"/>
<rect x="572.00" y="137.50" width="19.60" height="4.00" rx="0.00" fill="#000" opacity="0.14" filter="url(#b15)"/>
<rect x="572.00" y="155.50" width="19.60" height="4.00" rx="0.00" fill="#000" opacity="0.16" filter="url(#b15)"/>
<rect x="595.25" y="143.10" width="22.50" height="2.80" rx="1.40" fill="#000" opacity="1" filter="url(#b1)" transform="rotate(-1 606.5 144.5)"/>
<rect x="596.00" y="150.00" width="21.00" height="2.00" rx="1.00" fill="#000" opacity="0.14" filter="url(#b15)"/>
<rect x="596.00" y="137.50" width="21.00" height="4.00" rx="0.00" fill="#000" opacity="0.14" filter="url(#b15)"/>
<rect x="596.00" y="155.50" width="21.00" height="4.00" rx="0.00" fill="#000" opacity="0.16" filter="url(#b15)"/>
<rect x="620.25" y="142.60" width="24.50" height="2.60" rx="1.30" fill="#000" opacity="0.95" filter="url(#b1)" transform="rotate(-1 632.5 143.9)"/>
<rect x="621.00" y="149.40" width="23.00" height="2.00" rx="1.00" fill="#000" opacity="0.14" filter="url(#b15)"/>
<rect x="621.00" y="137.50" width="23.00" height="4.00" rx="0.00" fill="#000" opacity="0.14" filter="url(#b15)"/>
<rect x="621.00" y="155.50" width="23.00" height="4.00" rx="0.00" fill="#000" opacity="0.16" filter="url(#b15)"/>
<rect x="644.20" y="139.00" width="1.00" height="19.00" rx="0.00" fill="#555" opacity="0.8"/>
</g>
<clipPath id="c4"><rect x="423.2" y="160.5" width="221.8" height="16.5"/></clipPath>
<g clip-path="url(#c4)"><rect x="423.2" y="160.5" width="221.8" height="16.5" fill="#c8c8c8"/>
<rect x="420.20" y="158.00" width="26.00" height="22.00" rx="0.00" fill="#d6d6d6" opacity="1"/>
<rect x="427.00" y="171.00" width="14.00" height="4.00" rx="0.00" fill="#ececec" opacity="0.7" filter="url(#b15)"/>
<rect x="446.60" y="157.00" width="22.10" height="24.00" rx="0.00" fill="#4c4c4c" opacity="1" filter="url(#b1)"/>
<rect x="446.60" y="164.10" width="22.10" height="1.80" rx="0.00" fill="#b0b0b0" opacity="0.28" filter="url(#b1)"/>
<rect x="446.60" y="168.30" width="22.10" height="1.80" rx="0.00" fill="#b0b0b0" opacity="0.28" filter="url(#b1)"/>
<rect x="446.60" y="172.70" width="22.10" height="1.80" rx="0.00" fill="#b0b0b0" opacity="0.28" filter="url(#b1)"/>
<rect x="446.60" y="162.20" width="22.10" height="1.60" rx="0.00" fill="#000" opacity="0.22" filter="url(#b1)"/>
<rect x="446.60" y="166.40" width="22.10" height="1.60" rx="0.00" fill="#000" opacity="0.22" filter="url(#b1)"/>
<rect x="474.30" y="157.00" width="19.20" height="24.00" rx="0.00" fill="#5e5e5e" opacity="1" filter="url(#b1)"/>
<rect x="474.30" y="164.10" width="19.20" height="1.80" rx="0.00" fill="#b0b0b0" opacity="0.28" filter="url(#b1)"/>
<rect x="474.30" y="168.30" width="19.20" height="1.80" rx="0.00" fill="#b0b0b0" opacity="0.28" filter="url(#b1)"/>
<rect x="474.30" y="172.70" width="19.20" height="1.80" rx="0.00" fill="#b0b0b0" opacity="0.28" filter="url(#b1)"/>
<rect x="474.30" y="162.20" width="19.20" height="1.60" rx="0.00" fill="#000" opacity="0.22" filter="url(#b1)"/>
<rect x="474.30" y="166.40" width="19.20" height="1.60" rx="0.00" fill="#000" opacity="0.22" filter="url(#b1)"/>
<rect x="499.00" y="157.00" width="19.00" height="24.00" rx="0.00" fill="#5a5a5a" opacity="1" filter="url(#b1)"/>
<rect x="499.00" y="164.10" width="19.00" height="1.80" rx="0.00" fill="#b0b0b0" opacity="0.28" filter="url(#b1)"/>
<rect x="499.00" y="168.30" width="19.00" height="1.80" rx="0.00" fill="#b0b0b0" opacity="0.28" filter="url(#b1)"/>
<rect x="499.00" y="172.70" width="19.00" height="1.80" rx="0.00" fill="#b0b0b0" opacity="0.28" filter="url(#b1)"/>
<rect x="499.00" y="162.20" width="19.00" height="1.60" rx="0.00" fill="#000" opacity="0.22" filter="url(#b1)"/>
<rect x="499.00" y="166.40" width="19.00" height="1.60" rx="0.00" fill="#000" opacity="0.22" filter="url(#b1)"/>
<rect x="523.30" y="157.00" width="19.70" height="24.00" rx="0.00" fill="#686868" opacity="1" filter="url(#b1)"/>
<rect x="523.30" y="164.10" width="19.70" height="1.80" rx="0.00" fill="#b0b0b0" opacity="0.28" filter="url(#b1)"/>
<rect x="523.30" y="168.30" width="19.70" height="1.80" rx="0.00" fill="#b0b0b0" opacity="0.28" filter="url(#b1)"/>
<rect x="523.30" y="172.70" width="19.70" height="1.80" rx="0.00" fill="#b0b0b0" opacity="0.28" filter="url(#b1)"/>
<rect x="523.30" y="162.20" width="19.70" height="1.60" rx="0.00" fill="#000" opacity="0.22" filter="url(#b1)"/>
<rect x="523.30" y="166.40" width="19.70" height="1.60" rx="0.00" fill="#000" opacity="0.22" filter="url(#b1)"/>
<rect x="548.00" y="157.00" width="19.50" height="24.00" rx="0.00" fill="#6a6a6a" opacity="1" filter="url(#b1)"/>
<rect x="548.00" y="164.10" width="19.50" height="1.80" rx="0.00" fill="#b0b0b0" opacity="0.28" filter="url(#b1)"/>
<rect x="548.00" y="168.30" width="19.50" height="1.80" rx="0.00" fill="#b0b0b0" opacity="0.28" filter="url(#b1)"/>
<rect x="548.00" y="172.70" width="19.50" height="1.80" rx="0.00" fill="#b0b0b0" opacity="0.28" filter="url(#b1)"/>
<rect x="548.00" y="162.20" width="19.50" height="1.60" rx="0.00" fill="#000" opacity="0.22" filter="url(#b1)"/>
<rect x="548.00" y="166.40" width="19.50" height="1.60" rx="0.00" fill="#000" opacity="0.22" filter="url(#b1)"/>
<rect x="573.00" y="157.00" width="19.00" height="24.00" rx="0.00" fill="#7a7a7a" opacity="1" filter="url(#b1)"/>
<rect x="573.00" y="164.10" width="19.00" height="1.80" rx="0.00" fill="#b0b0b0" opacity="0.28" filter="url(#b1)"/>
<rect x="573.00" y="168.30" width="19.00" height="1.80" rx="0.00" fill="#b0b0b0" opacity="0.28" filter="url(#b1)"/>
<rect x="573.00" y="172.70" width="19.00" height="1.80" rx="0.00" fill="#b0b0b0" opacity="0.28" filter="url(#b1)"/>
<rect x="573.00" y="162.20" width="19.00" height="1.60" rx="0.00" fill="#000" opacity="0.22" filter="url(#b1)"/>
<rect x="573.00" y="166.40" width="19.00" height="1.60" rx="0.00" fill="#000" opacity="0.22" filter="url(#b1)"/>
<rect x="597.00" y="157.00" width="19.50" height="24.00" rx="0.00" fill="#565656" opacity="1" filter="url(#b1)"/>
<rect x="597.00" y="164.10" width="19.50" height="1.80" rx="0.00" fill="#b0b0b0" opacity="0.28" filter="url(#b1)"/>
<rect x="597.00" y="168.30" width="19.50" height="1.80" rx="0.00" fill="#b0b0b0" opacity="0.28" filter="url(#b1)"/>
<rect x="597.00" y="172.70" width="19.50" height="1.80" rx="0.00" fill="#b0b0b0" opacity="0.28" filter="url(#b1)"/>
<rect x="597.00" y="162.20" width="19.50" height="1.60" rx="0.00" fill="#000" opacity="0.22" filter="url(#b1)"/>
<rect x="597.00" y="166.40" width="19.50" height="1.60" rx="0.00" fill="#000" opacity="0.22" filter="url(#b1)"/>
<rect x="621.00" y="157.00" width="19.70" height="24.00" rx="0.00" fill="#404040" opacity="1" filter="url(#b1)"/>
<rect x="621.00" y="164.10" width="19.70" height="1.80" rx="0.00" fill="#b0b0b0" opacity="0.28" filter="url(#b1)"/>
<rect x="621.00" y="168.30" width="19.70" height="1.80" rx="0.00" fill="#b0b0b0" opacity="0.28" filter="url(#b1)"/>
<rect x="621.00" y="172.70" width="19.70" height="1.80" rx="0.00" fill="#b0b0b0" opacity="0.28" filter="url(#b1)"/>
<rect x="621.00" y="162.20" width="19.70" height="1.60" rx="0.00" fill="#000" opacity="0.22" filter="url(#b1)"/>
<rect x="621.00" y="166.40" width="19.70" height="1.60" rx="0.00" fill="#000" opacity="0.22" filter="url(#b1)"/>
</g>
<clipPath id="c5"><rect x="423.2" y="179" width="221.8" height="28"/></clipPath>
<g clip-path="url(#c5)"><rect x="423.2" y="179" width="221.8" height="28" fill="#ebebeb"/>
<rect x="444.20" y="176.00" width="18.80" height="34.00" rx="0.00" fill="#7a7a7a" opacity="0.1" filter="url(#b15)"/>
<rect x="470.00" y="176.00" width="18.30" height="34.00" rx="0.00" fill="#7a7a7a" opacity="0.12" filter="url(#b15)"/>
<rect x="495.00" y="176.00" width="19.60" height="34.00" rx="0.00" fill="#7a7a7a" opacity="0.12" filter="url(#b15)"/>
<rect x="520.00" y="176.00" width="19.00" height="34.00" rx="0.00" fill="#7a7a7a" opacity="0.15" filter="url(#b15)"/>
<rect x="544.90" y="176.00" width="20.10" height="34.00" rx="0.00" fill="#7a7a7a" opacity="0.12" filter="url(#b15)"/>
<rect x="570.30" y="176.00" width="20.10" height="34.00" rx="0.00" fill="#7a7a7a" opacity="0.1" filter="url(#b15)"/>
<rect x="594.80" y="176.00" width="21.00" height="34.00" rx="0.00" fill="#7a7a7a" opacity="0.17" filter="url(#b15)"/>
<rect x="619.00" y="176.00" width="23.00" height="34.00" rx="0.00" fill="#7a7a7a" opacity="0.18" filter="url(#b15)"/>
<rect x="444.20" y="188.00" width="18.80" height="8.00" rx="4.00" fill="#000" opacity="1" filter="url(#b1)"/>
<rect x="443.70" y="187.25" width="19.80" height="9.50" rx="4.75" fill="#000" opacity="0.5" filter="url(#b15)"/>
<rect x="470.00" y="188.10" width="18.30" height="8.60" rx="4.30" fill="#000" opacity="1" filter="url(#b1)"/>
<rect x="469.50" y="187.35" width="19.30" height="10.10" rx="5.05" fill="#000" opacity="0.5" filter="url(#b15)"/>
<rect x="495.00" y="188.60" width="19.60" height="7.40" rx="3.70" fill="#000" opacity="1" filter="url(#b1)"/>
<rect x="494.50" y="187.85" width="20.60" height="8.90" rx="4.45" fill="#000" opacity="0.5" filter="url(#b15)"/>
<rect x="520.00" y="187.40" width="19.00" height="5.80" rx="2.90" fill="#000" opacity="1" filter="url(#b1)"/>
<rect x="519.50" y="186.65" width="20.00" height="7.30" rx="3.65" fill="#000" opacity="0.5" filter="url(#b15)"/>
<rect x="544.90" y="185.50" width="20.10" height="5.20" rx="2.60" fill="#000" opacity="1" filter="url(#b1)"/>
<rect x="544.40" y="184.75" width="21.10" height="6.70" rx="3.35" fill="#000" opacity="0.5" filter="url(#b15)"/>
<rect x="570.30" y="185.70" width="20.10" height="4.20" rx="2.10" fill="#000" opacity="1" filter="url(#b1)"/>
<rect x="569.80" y="184.95" width="21.10" height="5.70" rx="2.85" fill="#000" opacity="0.5" filter="url(#b15)"/>
<rect x="594.80" y="184.60" width="21.00" height="4.60" rx="2.30" fill="#000" opacity="1" filter="url(#b1)"/>
<rect x="594.30" y="183.85" width="22.00" height="6.10" rx="3.05" fill="#000" opacity="0.5" filter="url(#b15)"/>
<rect x="619.00" y="185.50" width="23.00" height="4.00" rx="2.00" fill="#000" opacity="1" filter="url(#b1)"/>
<rect x="618.50" y="184.75" width="24.00" height="5.50" rx="2.75" fill="#000" opacity="0.5" filter="url(#b15)"/>
<rect x="622.00" y="190.90" width="19.00" height="2.80" rx="1.40" fill="#000" opacity="0.9" filter="url(#b1)"/>
<circle cx="528.6" cy="185.2" r="1.1" fill="#000" filter="url(#b1)"/>
<circle cx="554.5" cy="184.1" r="0.8" fill="#000" filter="url(#b1)"/>
<circle cx="629.8" cy="181.1" r="1.2" fill="#000" filter="url(#b1)"/>
<rect x="473.00" y="180.00" width="8.00" height="5.00" rx="0.00" fill="#fafafa" opacity="0.8" filter="url(#b15)"/>
</g>
<clipPath id="c6"><rect x="423.2" y="209.5" width="221.8" height="31.5"/></clipPath>
<g clip-path="url(#c6)"><rect x="423.2" y="209.5" width="221.8" height="31.5" fill="#ededed"/>
<rect x="446.20" y="209.50" width="1.60" height="31.50" rx="0.00" fill="#f8f8f8" opacity="0.7" filter="url(#b1)"/>
<rect x="471.70" y="209.50" width="1.60" height="31.50" rx="0.00" fill="#f8f8f8" opacity="0.7" filter="url(#b1)"/>
<rect x="496.20" y="209.50" width="1.60" height="31.50" rx="0.00" fill="#f8f8f8" opacity="0.7" filter="url(#b1)"/>
<rect x="521.20" y="209.50" width="1.60" height="31.50" rx="0.00" fill="#f8f8f8" opacity="0.7" filter="url(#b1)"/>
<rect x="545.20" y="209.50" width="1.60" height="31.50" rx="0.00" fill="#f8f8f8" opacity="0.7" filter="url(#b1)"/>
<rect x="569.20" y="209.50" width="1.60" height="31.50" rx="0.00" fill="#f8f8f8" opacity="0.7" filter="url(#b1)"/>
<rect x="594.20" y="209.50" width="1.60" height="31.50" rx="0.00" fill="#f8f8f8" opacity="0.7" filter="url(#b1)"/>
<rect x="618.20" y="209.50" width="1.60" height="31.50" rx="0.00" fill="#f8f8f8" opacity="0.7" filter="url(#b1)"/>
<rect x="445.80" y="217.50" width="27.20" height="6.00" rx="3.00" fill="#000" opacity="1" filter="url(#b1)" transform="rotate(4 459.4 220.5)"/>
<rect x="472.90" y="221.00" width="23.60" height="5.60" rx="2.80" fill="#000" opacity="1" filter="url(#b1)" transform="rotate(9 484.7 223.8)"/>
<rect x="495.50" y="222.90" width="26.60" height="5.60" rx="2.80" fill="#000" opacity="1" filter="url(#b1)" transform="rotate(-2 508.8 225.7)"/>
<rect x="522.50" y="221.60" width="22.50" height="5.20" rx="2.60" fill="#000" opacity="1" filter="url(#b1)" transform="rotate(-3 533.75 224.2)"/>
<rect x="546.70" y="219.90" width="21.50" height="4.80" rx="2.40" fill="#000" opacity="1" filter="url(#b1)"/>
<rect x="570.10" y="219.90" width="23.40" height="5.40" rx="2.70" fill="#000" opacity="1" filter="url(#b1)" transform="rotate(1 581.8 222.6)"/>
<rect x="595.70" y="220.00" width="22.40" height="5.00" rx="2.50" fill="#000" opacity="1" filter="url(#b1)"/>
<rect x="619.70" y="219.60" width="23.80" height="5.40" rx="2.70" fill="#000" opacity="1" filter="url(#b1)"/>
</g>
<text x="394.2" y="155.5" text-anchor="start" font-family="Liberation Sans, sans-serif" font-size="7" font-weight="bold" textLength="23.2" lengthAdjust="spacingAndGlyphs">90 kDa</text>
<text x="394.2" y="174.2" text-anchor="start" font-family="Liberation Sans, sans-serif" font-size="7" font-weight="bold" textLength="23.2" lengthAdjust="spacingAndGlyphs">82 kDa</text>
<text x="394.8" y="197.5" text-anchor="start" font-family="Liberation Sans, sans-serif" font-size="7" font-weight="bold" textLength="23.2" lengthAdjust="spacingAndGlyphs">32 kDa</text>
<text x="395" y="225" text-anchor="start" font-family="Liberation Sans, sans-serif" font-size="7" font-weight="bold" textLength="23.2" lengthAdjust="spacingAndGlyphs">43 kDa</text>
<text x="649.5" y="151.2" text-anchor="start" font-family="Liberation Sans, sans-serif" font-size="6.8" font-weight="bold" textLength="14.5" lengthAdjust="spacingAndGlyphs">Nrf2</text>
<text x="648.5" y="172.3" text-anchor="start" font-family="Liberation Sans, sans-serif" font-size="6.8" font-weight="bold" textLength="19.5" lengthAdjust="spacingAndGlyphs">SIRT1</text>
<text x="648.5" y="191.3" text-anchor="start" font-family="Liberation Sans, sans-serif" font-size="6.8" font-weight="bold" textLength="16.5" lengthAdjust="spacingAndGlyphs">HO-1</text>
<text x="650" y="224.2" text-anchor="start" font-family="Liberation Sans, sans-serif" font-size="6.8" font-weight="bold" textLength="23.5" lengthAdjust="spacingAndGlyphs">β-actin</text>
<text x="428" y="250.0" text-anchor="start" font-family="Liberation Sans, sans-serif" font-size="7.7" font-weight="bold" textLength="14.2" lengthAdjust="spacingAndGlyphs">MW</text>
<rect x="449" y="244.2" width="44" height="1.6" fill="#000"/>
<rect x="497" y="244.2" width="44.5" height="1.6" fill="#000"/>
<rect x="545.5" y="244.2" width="45.5" height="1.6" fill="#000"/>
<rect x="594.5" y="244.2" width="47.5" height="1.6" fill="#000"/>
<text x="471" y="256.3" text-anchor="middle" font-family="Liberation Sans, sans-serif" font-size="8.15" font-weight="bold">C</text>
<text x="520.5" y="256.3" text-anchor="middle" font-family="Liberation Sans, sans-serif" font-size="8.15" font-weight="bold">DAPA</text>
<text x="570" y="256.3" text-anchor="middle" font-family="Liberation Sans, sans-serif" font-size="8.15" font-weight="bold">TDF</text>
<text x="618.5" y="256.3" text-anchor="middle" font-family="Liberation Sans, sans-serif" font-size="8.15" font-weight="bold">TDF+DAPA</text>
<clipPath id="c7"><rect x="422.6" y="272" width="220.89999999999998" height="24.5"/></clipPath>
<g clip-path="url(#c7)"><rect x="422.6" y="272" width="220.89999999999998" height="24.5" fill="#f5f5f5"/>
<rect x="452.50" y="279.40" width="27.00" height="5.20" rx="2.60" fill="#000" opacity="1" filter="url(#b1)"/>
<rect x="481.50" y="279.70" width="23.00" height="4.60" rx="2.30" fill="#000" opacity="1" filter="url(#b1)"/>
<rect x="507.00" y="279.80" width="22.00" height="4.40" rx="2.20" fill="#000" opacity="1" filter="url(#b1)"/>
<rect x="530.00" y="279.60" width="22.50" height="4.80" rx="2.40" fill="#000" opacity="1" filter="url(#b1)"/>
<rect x="556.00" y="279.90" width="18.00" height="4.20" rx="2.10" fill="#000" opacity="1" filter="url(#b1)"/>
<rect x="580.00" y="280.30" width="13.50" height="3.40" rx="1.70" fill="#000" opacity="1" filter="url(#b1)"/>
<rect x="603.50" y="280.50" width="14.50" height="3.00" rx="1.50" fill="#000" opacity="1" filter="url(#b1)"/>
<rect x="624.00" y="279.90" width="18.00" height="4.20" rx="2.10" fill="#000" opacity="1" filter="url(#b1)"/>
</g>
<clipPath id="c8"><rect x="422.6" y="299" width="220.89999999999998" height="27"/></clipPath>
<g clip-path="url(#c8)"><rect x="422.6" y="299" width="220.89999999999998" height="27" fill="#f3f3f3"/>
<rect x="446.00" y="310.00" width="28.00" height="6.60" rx="3.30" fill="#000" opacity="1" filter="url(#b1)"/>
<rect x="479.00" y="310.30" width="18.50" height="6.00" rx="3.00" fill="#000" opacity="1" filter="url(#b1)"/>
<rect x="503.50" y="310.50" width="19.00" height="5.60" rx="2.80" fill="#000" opacity="1" filter="url(#b1)"/>
<rect x="528.00" y="310.80" width="16.50" height="5.00" rx="2.50" fill="#000" opacity="1" filter="url(#b1)"/>
<rect x="552.00" y="310.80" width="13.00" height="5.00" rx="2.50" fill="#000" opacity="1" filter="url(#b1)"/>
<rect x="572.00" y="310.60" width="16.50" height="5.40" rx="2.70" fill="#000" opacity="1" filter="url(#b1)"/>
<rect x="597.00" y="311.20" width="14.50" height="4.20" rx="2.10" fill="#000" opacity="1" filter="url(#b1)"/>
<rect x="620.00" y="310.20" width="21.50" height="6.20" rx="3.10" fill="#000" opacity="1" filter="url(#b1)"/>
</g>
<clipPath id="c9"><rect x="422.8" y="328.9" width="220.7" height="25.30000000000001"/></clipPath>
<g clip-path="url(#c9)"><rect x="422.8" y="328.9" width="220.7" height="25.30000000000001" fill="#dbdbdb"/>
<rect x="545.50" y="328.00" width="99.00" height="27.00" rx="0.00" fill="#d0d0d0" opacity="1"/>
<rect x="444.00" y="329.00" width="16.00" height="26.00" rx="0.00" fill="#ebebeb" opacity="0.55" filter="url(#b2)"/>
<rect x="470.00" y="329.00" width="16.00" height="26.00" rx="0.00" fill="#ebebeb" opacity="0.55" filter="url(#b2)"/>
<rect x="495.00" y="329.00" width="16.00" height="26.00" rx="0.00" fill="#ebebeb" opacity="0.55" filter="url(#b2)"/>
<rect x="520.00" y="329.00" width="16.00" height="26.00" rx="0.00" fill="#ebebeb" opacity="0.55" filter="url(#b2)"/>
<rect x="443.00" y="340.10" width="29.50" height="5.40" rx="2.70" fill="#000" opacity="1" filter="url(#b1)"/>
<rect x="473.50" y="340.40" width="24.00" height="4.80" rx="2.40" fill="#000" opacity="1" filter="url(#b1)"/>
<rect x="499.00" y="339.70" width="23.00" height="4.60" rx="2.30" fill="#000" opacity="1" filter="url(#b1)"/>
<rect x="523.00" y="339.40" width="23.00" height="4.40" rx="2.20" fill="#000" opacity="1" filter="url(#b1)"/>
<rect x="550.00" y="338.20" width="19.50" height="4.00" rx="2.00" fill="#000" opacity="1" filter="url(#b1)"/>
<rect x="575.00" y="338.30" width="16.50" height="3.40" rx="1.70" fill="#000" opacity="1" filter="url(#b1)"/>
<rect x="598.00" y="337.80" width="16.00" height="3.60" rx="1.80" fill="#000" opacity="1" filter="url(#b1)"/>
<rect x="620.00" y="337.50" width="20.00" height="4.20" rx="2.10" fill="#000" opacity="1" filter="url(#b1)"/>
<rect x="429.00" y="330.40" width="11.00" height="3.00" rx="0.00" fill="#fff" opacity="0.8" filter="url(#b15)"/>
</g>
<text x="395" y="285.6" text-anchor="start" font-family="Liberation Sans, sans-serif" font-size="7" font-weight="bold" textLength="23.2" lengthAdjust="spacingAndGlyphs">25 kDa</text>
<text x="395" y="314.3" text-anchor="start" font-family="Liberation Sans, sans-serif" font-size="7" font-weight="bold" textLength="23.2" lengthAdjust="spacingAndGlyphs">16 kDa</text>
<text x="395" y="347" text-anchor="start" font-family="Liberation Sans, sans-serif" font-size="7" font-weight="bold" textLength="23.2" lengthAdjust="spacingAndGlyphs">43 kDa</text>
<text x="650" y="285.4" text-anchor="start" font-family="Liberation Sans, sans-serif" font-size="6.8" font-weight="bold" textLength="26" lengthAdjust="spacingAndGlyphs">MnSOD</text>
<text x="650" y="314.4" text-anchor="start" font-family="Liberation Sans, sans-serif" font-size="6.8" font-weight="bold" textLength="34" lengthAdjust="spacingAndGlyphs">CuZnSOD</text>
<text x="650" y="342.4" text-anchor="start" font-family="Liberation Sans, sans-serif" font-size="6.8" font-weight="bold" textLength="23.5" lengthAdjust="spacingAndGlyphs">β-actin</text>
<text x="428" y="362.4" text-anchor="start" font-family="Liberation Sans, sans-serif" font-size="7.7" font-weight="bold" textLength="14.2" lengthAdjust="spacingAndGlyphs">MW</text>
<rect x="445" y="356.2" width="53" height="1.6" fill="#000"/>
<rect x="500.5" y="356.2" width="44.5" height="1.6" fill="#000"/>
<rect x="548.5" y="356.2" width="45.5" height="1.6" fill="#000"/>
<rect x="598" y="356.2" width="45.5" height="1.6" fill="#000"/>
<text x="471.7" y="368.6" text-anchor="middle" font-family="Liberation Sans, sans-serif" font-size="8.15" font-weight="bold">C</text>
<text x="523" y="368.6" text-anchor="middle" font-family="Liberation Sans, sans-serif" font-size="8.15" font-weight="bold">DAPA</text>
<text x="570.8" y="368.6" text-anchor="middle" font-family="Liberation Sans, sans-serif" font-size="8.15" font-weight="bold">TDF</text>
<text x="622" y="368.6" text-anchor="middle" font-family="Liberation Sans, sans-serif" font-size="8.15" font-weight="bold">TDF+DAPA</text>
</g></svg>
</body></html>
